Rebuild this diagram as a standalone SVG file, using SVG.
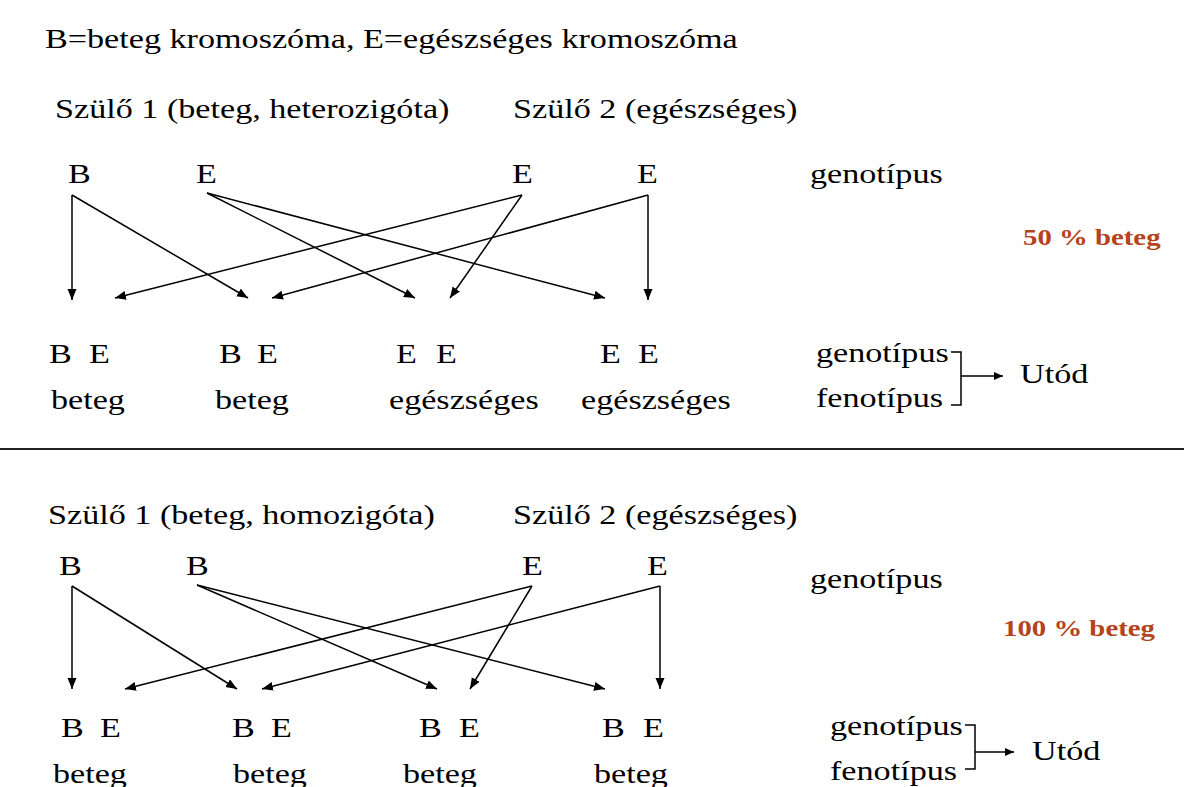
<svg xmlns="http://www.w3.org/2000/svg" width="1184" height="787" viewBox="0 0 1184 787">
<style>
text { font-family: "Liberation Serif", "Times New Roman", serif; font-size: 28px; fill: #000; transform-box: fill-box; transform-origin: 0 50%; transform: scaleX(1.22); }
.red { font-size: 24px; font-weight: bold; fill: #b4441c; transform: scaleX(1.2); }
.c line { stroke: #000; stroke-width: 1.5; }
.a { marker-end: url(#ah); }
.br { fill: none; stroke: #000; stroke-width: 1.5; }
</style>
<defs>
<marker id="ah" markerUnits="userSpaceOnUse" markerWidth="12" markerHeight="10" refX="11" refY="4.5" orient="auto">
<path d="M0,0 L11,4.5 L0,9 z" fill="#000"/>
</marker>
<marker id="ah2" markerUnits="userSpaceOnUse" markerWidth="10" markerHeight="9" refX="9" refY="4" orient="auto">
<path d="M0,0 L9,4 L0,8 z" fill="#000"/>
</marker>
</defs>
<rect width="1184" height="787" fill="#fff"/>

<g id="title"><text x="45" y="48">B=beteg kromoszóma, E=egészséges kromoszóma</text></g>

<!-- Section 1 -->
<g id="s1-parents">
<text x="55" y="118">Szülő 1 (beteg, heterozigóta)</text>
<text x="513" y="118">Szülő 2 (egészséges)</text>
</g>
<g id="s1-p1-B"><text x="68" y="183">B</text></g>
<g id="s1-p1-E"><text x="196" y="183">E</text></g>
<g id="s1-p2-E1"><text x="512" y="183">E</text></g>
<g id="s1-p2-E2"><text x="637" y="183">E</text></g>
<g id="s1-geno"><text x="810" y="183">genotípus</text></g>
<g id="s1-pct"><text class="red" x="1023" y="245">50 % beteg</text></g>

<g id="s1-o1"><text x="49" y="363">B</text><text x="89" y="363">E</text><text x="51" y="409">beteg</text></g>
<g id="s1-o2"><text x="219" y="363">B</text><text x="257" y="363">E</text><text x="215" y="409">beteg</text></g>
<g id="s1-o3"><text x="396" y="363">E</text><text x="436" y="363">E</text><text x="389" y="409">egészséges</text></g>
<g id="s1-o4"><text x="600" y="363">E</text><text x="638" y="363">E</text><text x="581" y="409">egészséges</text></g>

<g id="s1-legend">
<text x="816" y="362">genotípus</text>
<text x="816" y="407">fenotípus</text>
<path class="br" d="M951,352 H961 V405 H951"/>
<line x1="961" y1="376" x2="1003" y2="376" stroke="#000" stroke-width="1.5" marker-end="url(#ah2)"/>
<text x="1020" y="383">Utód</text>
</g>

<g id="divider"><line x1="0" y1="449" x2="1184" y2="449" stroke="#222" stroke-width="2"/></g>

<!-- Section 2 -->
<g id="s2-parents">
<text x="48" y="524">Szülő 1 (beteg, homozigóta)</text>
<text x="513" y="524">Szülő 2 (egészséges)</text>
</g>
<g id="s2-p1-B1"><text x="59" y="575">B</text></g>
<g id="s2-p1-B2"><text x="186" y="575">B</text></g>
<g id="s2-p2-E1"><text x="522" y="575">E</text></g>
<g id="s2-p2-E2"><text x="647" y="575">E</text></g>
<g id="s2-geno"><text x="810" y="588">genotípus</text></g>
<g id="s2-pct"><text class="red" x="1003" y="636">100 % beteg</text></g>

<g id="s2-o1"><text x="61" y="737">B</text><text x="100" y="737">E</text><text x="53" y="783">beteg</text></g>
<g id="s2-o2"><text x="232" y="737">B</text><text x="271" y="737">E</text><text x="233" y="783">beteg</text></g>
<g id="s2-o3"><text x="419" y="737">B</text><text x="459" y="737">E</text><text x="403" y="783">beteg</text></g>
<g id="s2-o4"><text x="602" y="737">B</text><text x="643" y="737">E</text><text x="594" y="783">beteg</text></g>

<g id="s2-legend">
<text x="830" y="735">genotípus</text>
<text x="830" y="780">fenotípus</text>
<path class="br" d="M965,725 H975 V769 H965"/>
<line x1="975" y1="752" x2="1014" y2="752" stroke="#000" stroke-width="1.5" marker-end="url(#ah2)"/>
<text x="1032" y="760">Utód</text>
</g>

<g id="connectors" class="c">
<line class="a" x1="72" y1="195" x2="72" y2="300"/>
<line class="a" x1="72" y1="195" x2="248" y2="298"/>
<line class="a" x1="207" y1="193" x2="415" y2="298"/>
<line class="a" x1="207" y1="193" x2="605" y2="298"/>
<line class="a" x1="522" y1="195" x2="115" y2="298"/>
<line class="a" x1="522" y1="195" x2="450" y2="298"/>
<line class="a" x1="648" y1="195" x2="272" y2="298"/>
<line class="a" x1="648" y1="195" x2="648" y2="300"/>

<line class="a" x1="72" y1="586" x2="72" y2="689"/>
<line class="a" x1="72" y1="586" x2="237" y2="689"/>
<line class="a" x1="197" y1="585" x2="437" y2="689"/>
<line class="a" x1="197" y1="585" x2="605" y2="689"/>
<line class="a" x1="532" y1="586" x2="125" y2="689"/>
<line class="a" x1="532" y1="586" x2="470" y2="689"/>
<line class="a" x1="660" y1="586" x2="262" y2="689"/>
<line class="a" x1="660" y1="586" x2="660" y2="689"/>
</g>
</svg>
